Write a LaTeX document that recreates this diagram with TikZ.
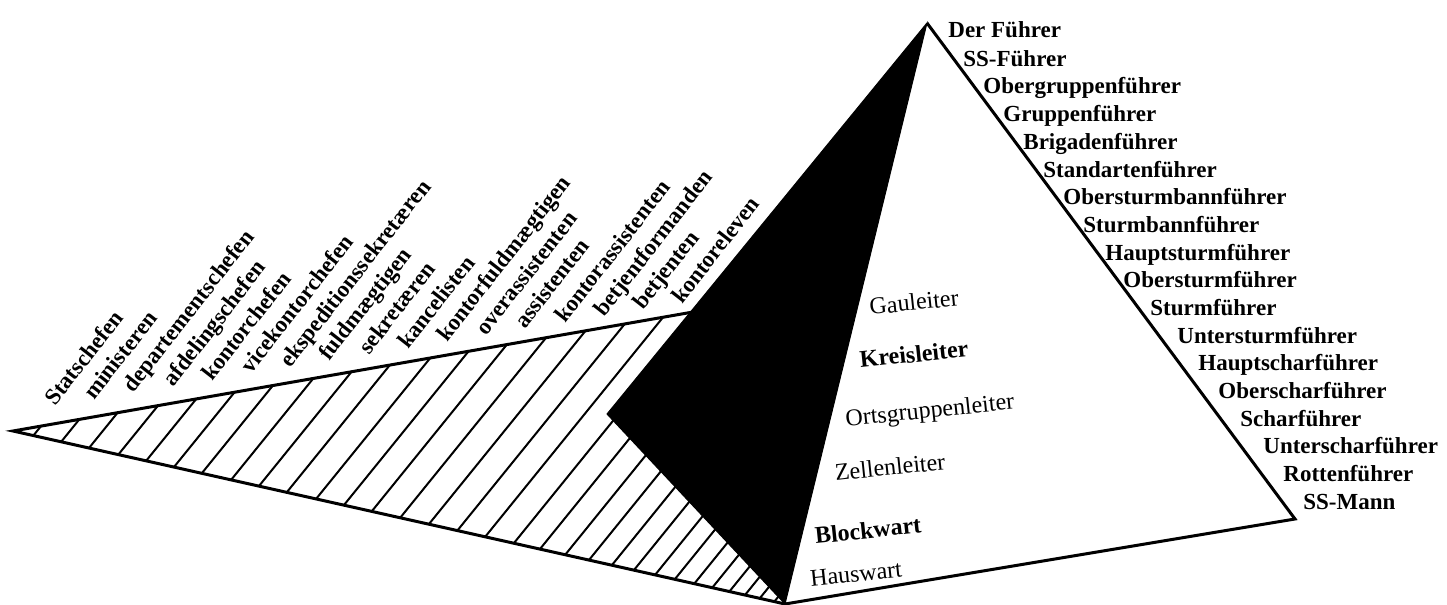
\documentclass[tikz,border=0pt]{standalone}
\usepackage{fontspec}
\setmainfont{Liberation Serif}
\usepackage{tikz}

\begin{document}
\begin{tikzpicture}[x=0.5pt,y=-0.5pt]

	\tikzstyle edge lines=[line width=1.5pt, line join=miter];
	\tikzstyle hatch lines=[line width=1pt];
	\tikzstyle rank=[font=\bfseries\fontsize{11.5}{12}\selectfont, inner sep=0pt, anchor=base west];
	\tikzstyle office=[rank, rotate=52];
	\tikzstyle party=[font=\fontsize{12}{13}\selectfont, inner sep=0pt, rotate=6];
	\tikzstyle party bold=[party, font=\bfseries\fontsize{12}{13}\selectfont];

	\useasboundingbox (0,0) rectangle (1447,605);

	\coordinate (L) at (13,431);
	\coordinate (T) at (693,312);
	\coordinate (K) at (607,414);
	\coordinate (B) at (785,604);
	\coordinate (A) at (927,23);
	\coordinate (R) at (1295,519);

	% hatched triangle
	\begin{scope}
	\clip (L) -- (T) -- (B) -- cycle;
	\draw[hatch lines] (33,436) -- ++(252,-311);
	\draw[hatch lines] (61,442) -- ++(252,-311);
	\draw[hatch lines] (89,448) -- ++(252,-311);
	\draw[hatch lines] (118,455) -- ++(252,-311);
	\draw[hatch lines] (146,461) -- ++(252,-311);
	\draw[hatch lines] (174,467) -- ++(252,-311);
	\draw[hatch lines] (202,473) -- ++(252,-311);
	\draw[hatch lines] (231,480) -- ++(252,-311);
	\draw[hatch lines] (259,486) -- ++(252,-311);
	\draw[hatch lines] (287,492) -- ++(252,-311);
	\draw[hatch lines] (316,499) -- ++(252,-311);
	\draw[hatch lines] (344,505) -- ++(252,-311);
	\draw[hatch lines] (372,511) -- ++(252,-311);
	\draw[hatch lines] (400,518) -- ++(252,-311);
	\draw[hatch lines] (429,524) -- ++(252,-311);
	\draw[hatch lines] (457,531) -- ++(252,-311);
	\draw[hatch lines] (485,537) -- ++(252,-311);
	\draw[hatch lines] (514,543) -- ++(252,-311);
	\draw[hatch lines] (540,549) -- ++(252,-311);
	\draw[hatch lines] (565,555) -- ++(252,-311);
	\draw[hatch lines] (589,560) -- ++(252,-311);
	\draw[hatch lines] (612,565) -- ++(252,-311);
	\draw[hatch lines] (634,570) -- ++(252,-311);
	\draw[hatch lines] (655,575) -- ++(252,-311);
	\draw[hatch lines] (675,579) -- ++(252,-311);
	\draw[hatch lines] (694,584) -- ++(252,-311);
	\draw[hatch lines] (712,588) -- ++(252,-311);
	\draw[hatch lines] (729,592) -- ++(252,-311);
	\draw[hatch lines] (745,595) -- ++(252,-311);
	\draw[hatch lines] (760,598) -- ++(252,-311);
	\draw[hatch lines] (774,602) -- ++(252,-311);
	\end{scope}
	\draw[edge lines] (T) -- (L) -- (B);

	% pyramid
	\draw[edge lines] (A) -- (R) -- (B);
	\filldraw[line width=0.5pt, line join=miter] (A) -- (K) -- (B) -- cycle;

	\node[office] (dk1) at (55,407) {Statschefen};
	\node[office] (dk2) at (94,401) {ministeren};
	\node[office] (dk3) at (133,394) {departementschefen};
	\node[office] (dk4) at (173,388) {afdelingschefen};
	\node[office] (dk5) at (212,382) {kontorchefen};
	\node[office] (dk6) at (251,375) {vicekontorchefen};
	\node[office] (dk7) at (290,369) {ekspeditionssekretæren};
	\node[office] (dk8) at (329,362) {fuldmægtigen};
	\node[office] (dk9) at (369,356) {sekretæren};
	\node[office] (dk10) at (408,350) {kancelisten};
	\node[office] (dk11) at (447,343) {kontorfuldmægtigen};
	\node[office] (dk12) at (486,337) {overassistenten};
	\node[office] (dk13) at (525,330) {assistenten};
	\node[office] (dk14) at (565,324) {kontorassistenten};
	\node[office] (dk15) at (604,318) {betjentformanden};
	\node[office] (dk16) at (643,311) {betjenten};
	\node[office] (dk17) at (682,305) {kontoreleven};

	\node[rank] (ss1) at (948,38) {Der Führer};
	\node[rank] (ss2) at (963,66) {SS-Führer};
	\node[rank] (ss3) at (983,93) {Obergruppenführer};
	\node[rank] (ss4) at (1003,121) {Gruppenführer};
	\node[rank] (ss5) at (1023,149) {Brigadenführer};
	\node[rank] (ss6) at (1043,177) {Standartenführer};
	\node[rank] (ss7) at (1063,204) {Obersturmbannführer};
	\node[rank] (ss8) at (1083,232) {Sturmbannführer};
	\node[rank] (ss9) at (1105,260) {Hauptsturmführer};
	\node[rank] (ss10) at (1123,287) {Obersturmführer};
	\node[rank] (ss11) at (1150,315) {Sturmführer};
	\node[rank] (ss12) at (1177,343) {Untersturmführer};
	\node[rank] (ss13) at (1198,370) {Hauptscharführer};
	\node[rank] (ss14) at (1218,398) {Oberscharführer};
	\node[rank] (ss15) at (1240,426) {Scharführer};
	\node[rank] (ss16) at (1263,453) {Unterscharführer};
	\node[rank] (ss17) at (1283,481) {Rottenführer};
	\node[rank] (ss18) at (1303,509) {SS-Mann};

	\node[party] (pl1) at (914,302) {Gauleiter};
	\node[party bold] (pl2) at (914,354) {Kreisleiter};
	\node[party] (pl3) at (930,412) {Ortsgruppenleiter};
	\node[party] (pl4) at (890,467) {Zellenleiter};
	\node[party bold] (pl5) at (868,530) {Blockwart};
	\node[party] (pl6) at (856,574) {Hauswart};

\end{tikzpicture}
\end{document}
